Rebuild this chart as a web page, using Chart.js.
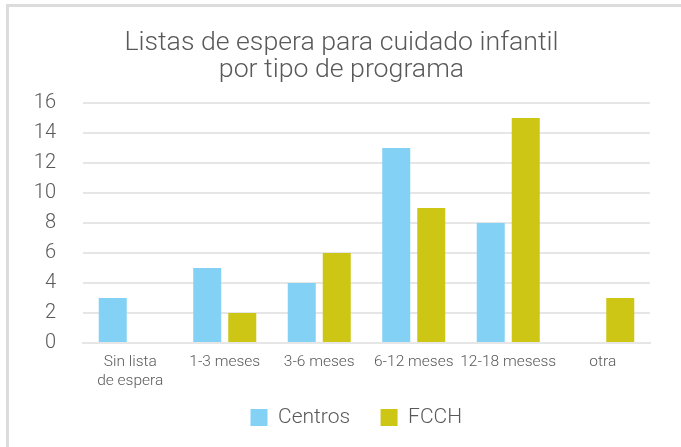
<!DOCTYPE html>
<html>
<head>
<meta charset="utf-8">
<script src="https://cdn.jsdelivr.net/npm/chart.js@4/dist/chart.umd.min.js"></script>
<style>
  html, body { margin: 0; padding: 0; background: #fff; }
  #wrap { position: relative; width: 681px; height: 447px; overflow: hidden; }
  #frame { position: absolute; left: 6px; top: 4px; width: 700px; height: 460px;
           border-top: 3px solid #dcdcdc; border-left: 3px solid #dcdcdc; }
  #chart { position: absolute; left: 0; top: 0; }
</style>
</head>
<body>
<div id="wrap">
  <div id="frame"></div>
  <canvas id="chart" width="681" height="447"></canvas>
</div>
<script>
// ── Data ───────────────────────────────────────────────────────
const categories = [['Sin lista', 'de espera'], '1-3 meses', '3-6 meses', '6-12 meses', '12-18 mesess', 'otra'];
const centros = [3, 5, 4, 13, 8, 0];
const fcch    = [0, 2, 6, 9, 15, 3];
const yTicks  = [0, 2, 4, 6, 8, 10, 12, 14, 16];

const TEXT = '#595959';
const GRID = '#e6e6e6';

Chart.defaults.font.family = 'Roboto, "Open Sans", sans-serif';
Chart.defaults.font.weight = 300;
Chart.defaults.color = TEXT;

new Chart(document.getElementById('chart'), {
  type: 'bar',
  data: {
    labels: categories,
    datasets: [
      { label: 'Centros', data: centros, backgroundColor: '#83d2f6' },
      { label: 'FCCH',    data: fcch,    backgroundColor: '#cdc615' },
    ]
  },
  options: {
    responsive: false,
    animation: false,
    categoryPercentage: 0.741,
    barPercentage: 0.8,
    layout: { padding: { left: 33, right: 31, top: 16, bottom: 9 } },
    plugins: {
      title: {
        display: true,
        text: ['Listas de espera para cuidado infantil', 'por tipo de programa'],
        color: TEXT,
        font: { size: 26.7, weight: 300, lineHeight: '27px' },
        padding: { top: 14, bottom: 19 },
      },
      legend: {
        position: 'bottom',
        fullSize: false,
        labels: {
          boxWidth: 17, boxHeight: 17, padding: 10,
          color: TEXT,
          font: { size: 21, weight: 300 },
          // trailing spaces widen the gap between the two items without adding height
          generateLabels: chart => Chart.defaults.plugins.legend.labels.generateLabels(chart)
            .map(l => ({ ...l, text: l.text + '    ' })),
        }
      },
      tooltip: { enabled: false },
    },
    scales: {
      x: {
        afterFit: s => { s.height = 54; },
        grid: { display: false },
        border: { color: GRID, width: 2 },
        ticks: { color: TEXT, font: { size: 15.5, weight: 300, lineHeight: 1.2 }, padding: 2, maxRotation: 0, autoSkip: false },
      },
      y: {
        min: 0, max: 16,
        afterBuildTicks: s => { s.ticks = yTicks.map(v => ({ value: v })); },
        afterFit: s => { s.width = 50; },
        grid: { color: GRID, lineWidth: 2, drawTicks: false },
        border: { display: false },
        ticks: { color: TEXT, font: { size: 20, weight: 300 }, padding: 27 },
      }
    }
  }
});
</script>
</body>
</html>
